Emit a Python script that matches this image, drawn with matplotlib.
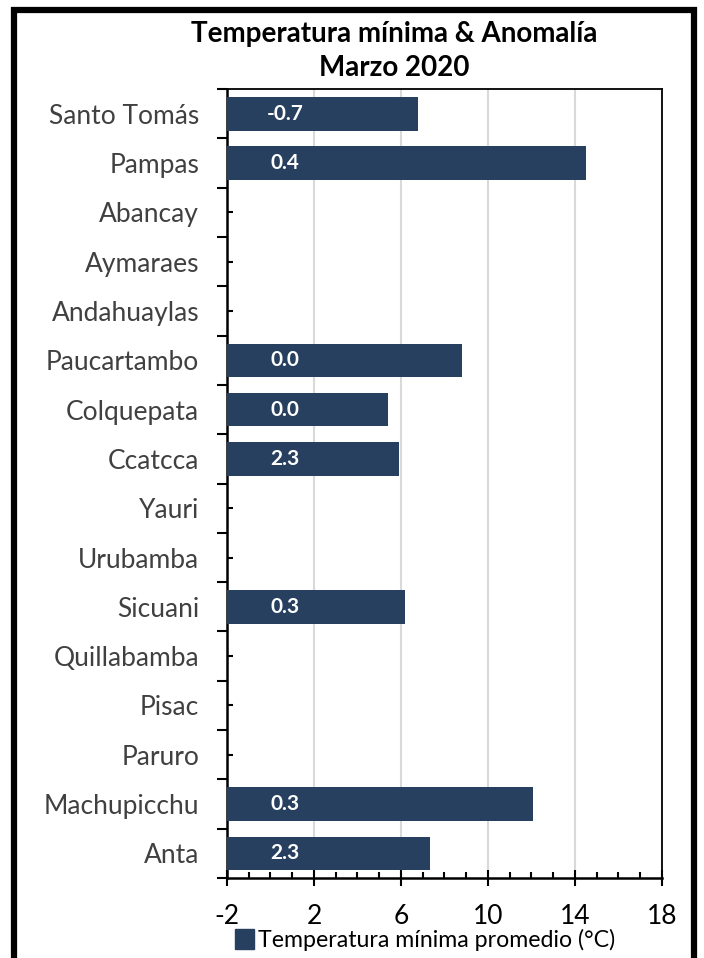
import numpy as np
import matplotlib
matplotlib.use('Agg')
import matplotlib.pyplot as plt
from matplotlib.patches import Rectangle, Patch
from matplotlib.ticker import MultipleLocator

plt.rcParams['font.family'] = ['Lato', 'DejaVu Sans']
plt.rcParams['axes.unicode_minus'] = False

# data (top to bottom)
estaciones = ['Santo Tomás', 'Pampas', 'Abancay', 'Aymaraes', 'Andahuaylas',
              'Paucartambo', 'Colquepata', 'Ccatcca', 'Yauri', 'Urubamba',
              'Sicuani', 'Quillabamba', 'Pisac', 'Paruro', 'Machupicchu', 'Anta']
tmin = [6.8, 14.5, np.nan, np.nan, np.nan, 8.8, 5.4, 5.9, np.nan, np.nan,
        6.2, np.nan, np.nan, np.nan, 12.05, 7.35]
anomalia = ['-0.7', '0.4', '', '', '', '0.0', '0.0', '2.3', '', '',
            '0.3', '', '', '', '0.3', '2.3']

bar_color = '#27405f'
x_min, x_max = -2, 18

fig = plt.figure(figsize=(7.04, 9.58), dpi=100)
ax = fig.add_axes([0.3224, 0.0835, 0.6179, 0.8235])

n = len(estaciones)
ypos = np.arange(n)
ax.barh(ypos, np.array(tmin) - x_min, left=x_min, height=0.68, color=bar_color, zorder=3)

# anomaly labels near the base of each bar
for y, v, lab in zip(ypos, tmin, anomalia):
    if not np.isnan(v) and lab:
        ax.annotate(lab, (x_min, y), xytext=(42, 0), textcoords='offset points',
                    ha='center', va='center', color='white', fontsize=15,
                    fontweight='bold', zorder=4)

ax.set_xlim(x_min, x_max)
ax.set_ylim(n - 0.5, -0.5)

# x axis
ax.set_xticks(np.arange(-2, 19, 4))
ax.xaxis.set_minor_locator(MultipleLocator(1))
ax.tick_params(axis='x', which='major', direction='inout', length=11, width=1.5,
               labelsize=19, pad=13)
ax.tick_params(axis='x', which='minor', direction='in', length=4, width=1.5)
ax.grid(axis='x', which='major', color='#d9d9d9', linewidth=1.5, zorder=0)

# y axis: ticks between categories, labels at centres
ax.set_yticks(np.arange(-0.5, n, 1))
ax.set_yticklabels([])
ax.set_yticks(ypos, estaciones, minor=True)
ax.tick_params(axis='y', which='major', direction='out', length=7, width=1.5)
ax.tick_params(axis='y', which='minor', direction='in', length=4.5, width=1.5,
               labelsize=19, pad=20, labelcolor='#404040')

for s in ['left', 'bottom']:
    ax.spines[s].set_linewidth(1.8)
for s in ['top', 'right']:
    ax.spines[s].set_linewidth(1.3)

fig.text(0.56, 0.965, 'Temperatura mínima & Anomalía', ha='center', va='center',
         fontsize=20, fontweight='bold')
fig.text(0.56, 0.929, 'Marzo 2020', ha='center', va='center',
         fontsize=20, fontweight='bold')

handle = Patch(facecolor=bar_color, edgecolor=bar_color)
fig.legend([handle], ['Temperatura mínima promedio (°C)'], loc='center',
           bbox_to_anchor=(0.604, 1 - 940 / 958), frameon=False, fontsize=16.7,
           handlelength=0.8, handleheight=0.9, handletextpad=0.2)

# outer frame of the chart
fig.patches.append(Rectangle((14 / 704, -0.05), (694 - 14) / 704, 1.05 - 10 / 958,
                             transform=fig.transFigure, fill=False,
                             edgecolor='black', linewidth=4.5))

fig.savefig('out.png', dpi=100)
